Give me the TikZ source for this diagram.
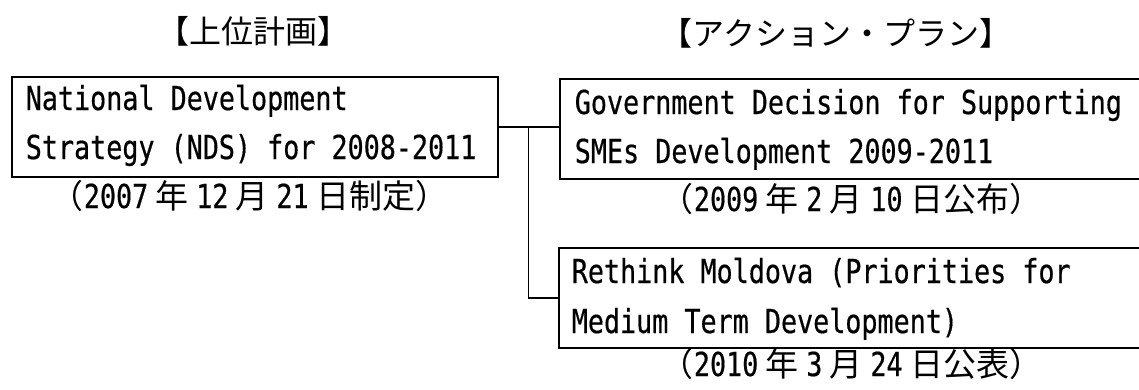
\documentclass[tikz,border=0pt]{standalone}
\usepackage{fontspec}
\setmainfont{DejaVu Sans Mono}[FakeStretch=0.81,FakeBold=0.5]
\newfontfamily\jp{Noto Sans CJK JP}
\newcommand\gp{\hspace{7.5pt}}
\begin{document}
\begin{tikzpicture}[x=1pt,y=-1pt,line width=1.6pt,
  box/.style={draw=black, line width=1.6pt, inner sep=0pt, minimum height=100pt, anchor=north west},
  txt/.style={inner sep=0pt, font=\fontsize{33}{33}\selectfont},
  conn/.style={draw=black, line width=1.6pt}]
\useasboundingbox (0,0) rectangle (1139,389);
\clip (0,0) rectangle (1139,389);
% headings
\node[txt, anchor=base, font=\fontsize{32}{32}\selectfont\jp] (h1) at (253,43) {【上位計画】};
\node[txt, anchor=base, font=\fontsize{32}{32}\selectfont\jp] (h2) at (836,45) {【アクション・プラン】};
% boxes
\node[box, minimum width=486pt] (nds) at (11,76) {};
\node[box, minimum width=620pt] (sme) at (559,78) {};
\node[box, minimum width=620pt] (rmd) at (558,247) {};
% box texts
\node[txt, anchor=base west] (nds1) at (25,110) {National Development};
\node[txt, anchor=base west] (nds2) at (25,159) {Strategy (NDS) for 2008-2011};
\node[txt, anchor=base west] (sme1) at (574,114) {Government Decision for Supporting};
\node[txt, anchor=base west] (sme2) at (574,163) {SMEs Development 2009-2011};
\node[txt, anchor=base west] (rmd1) at (571,283) {Rethink Moldova (Priorities for};
\node[txt, anchor=base west] (rmd2) at (571,333) {Medium Term Development)};
% dates
\node[txt, anchor=base] (d1) at (249.5,208) {{\jp （}2007\gp{\jp 年}\gp 12\gp{\jp 月}\gp 21\gp{\jp 日制定）}};
\node[txt, anchor=base] (d2) at (851.5,211) {{\jp （}2009\gp{\jp 年}\gp 2\gp{\jp 月}\gp 10\gp{\jp 日公布）}};
\node[txt, anchor=base] (d3) at (851.5,376) {{\jp （}2010\gp{\jp 年}\gp 3\gp{\jp 月}\gp 24\gp{\jp 日公表）}};
% connectors
\coordinate (j) at ([xshift=30pt]nds.east);
\draw[conn] (nds.east) -- (nds.east -| sme.west);
\draw[conn] (j) |- (rmd.west);
\end{tikzpicture}
\end{document}
